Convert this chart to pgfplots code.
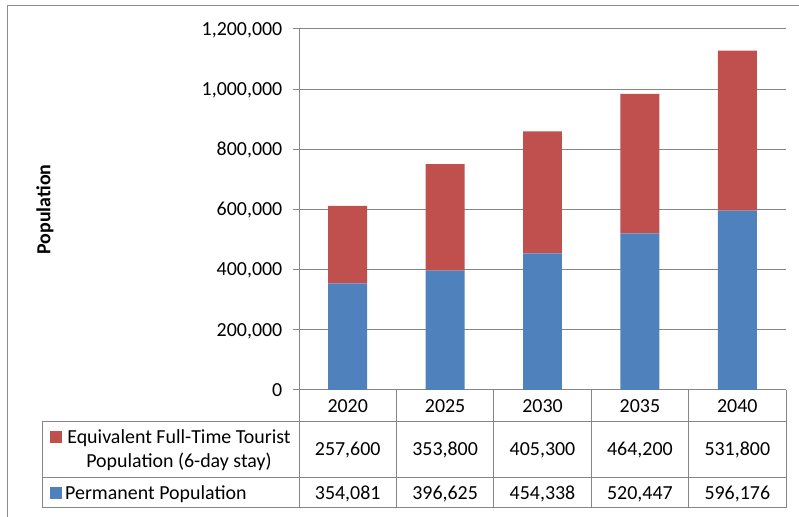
\documentclass[border=0pt]{standalone}
\usepackage{fontspec}
\setmainfont{Carlito}
\usepackage{pgfplots}
\usepackage{pgfplotstable}
\pgfplotsset{compat=1.18}
\definecolor{permblue}{HTML}{4F81BD}
\definecolor{tourred}{HTML}{C0504D}
\definecolor{gridgray}{RGB}{134,134,134}
\definecolor{bordergray}{RGB}{140,140,140}

\pgfplotstableread{
x year perm tour
0 2020 354081 257600
1 2025 396625 353800
2 2030 454338 405300
3 2035 520447 464200
4 2040 596176 531800
}\datatable

\newcommand\cf{\fontsize{20}{24}\selectfont}
\pgfkeys{/pgf/number format/assume math mode=true}

\begin{document}
\begin{tikzpicture}[x=1bp,y=1bp,font=\cf]
\useasboundingbox (0,0) rectangle (799,517);
\fill[white] (0,0) rectangle (799,517);
\draw[bordergray, line width=1bp] (7,0) -- (7,511) -- (799,511);
\begin{axis}[
  at={(299bp,127bp)}, anchor=south west,
  width=487bp, height=361bp, scale only axis,
  ybar stacked, bar width=0.4,
  xmin=-0.5, xmax=4.5, ymin=0, ymax=1200000,
  ytick={0,200000,400000,600000,800000,1000000,1200000},
  scaled y ticks=false,
  xtick={0,1,2,3,4}, xticklabels={2020,2025,2030,2035,2040},
  xtick style={draw=none},
  axis x line*=bottom, axis y line*=left,
  axis line style={draw=gridgray, line width=1bp, -},
  ymajorgrids, grid style={draw=gridgray, line width=1bp},
  tick align=outside, major tick length=6.5bp,
  ytick style={draw=gridgray, line width=1bp},
  tick label style={font=\cf},
  yticklabel style={anchor=base east, yshift=-6.3bp, inner sep=0pt, xshift=-10bp,
    /pgf/number format/.cd, fixed, 1000 sep={,}, assume math mode=true},
  xticklabel style={anchor=base, inner sep=0pt, yshift=-16.4bp},
  ylabel={Population},
  ylabel style={at={(axis description cs:-0.5216,0.5)}, anchor=center, font=\cf\bfseries},
  clip=false,
]
\addplot[fill=permblue, draw=none] table[x=x, y=perm] {\datatable};
\addplot[fill=tourred, draw=none] table[x=x, y=tour] {\datatable};
\end{axis}
% data table below the chart
\draw[gridgray, line width=1bp] (42,95)--(786,95) (42,39)--(786,39) (42,9)--(786,9) (42,9)--(42,95);
\foreach \xx in {299,396.4,493.8,591.2,688.6,786} \draw[gridgray, line width=1bp] (\xx,127)--(\xx,9);
\fill[tourred] (50,74) rectangle (62,86);
\fill[permblue] (50,18) rectangle (62,30);
\node[anchor=base, inner sep=0pt] at (179,73) {Equivalent Full-Time Tourist};
\node[anchor=base, inner sep=0pt] at (179,49) {Population (6-day stay)};
\node[anchor=base west, inner sep=0pt] at (65,17.7) {Permanent Population};
\foreach \i in {0,...,4} {
  \pgfplotstablegetelem{\i}{tour}\of\datatable
  \node[anchor=base, inner sep=0pt] at ({347.7+97.4*\i},61.5) {\pgfmathprintnumber[fixed,1000 sep={,},assume math mode=true]{\pgfplotsretval}};
  \pgfplotstablegetelem{\i}{perm}\of\datatable
  \node[anchor=base, inner sep=0pt] at ({347.7+97.4*\i},17.7) {\pgfmathprintnumber[fixed,1000 sep={,},assume math mode=true]{\pgfplotsretval}};
}
\end{tikzpicture}
\end{document}
